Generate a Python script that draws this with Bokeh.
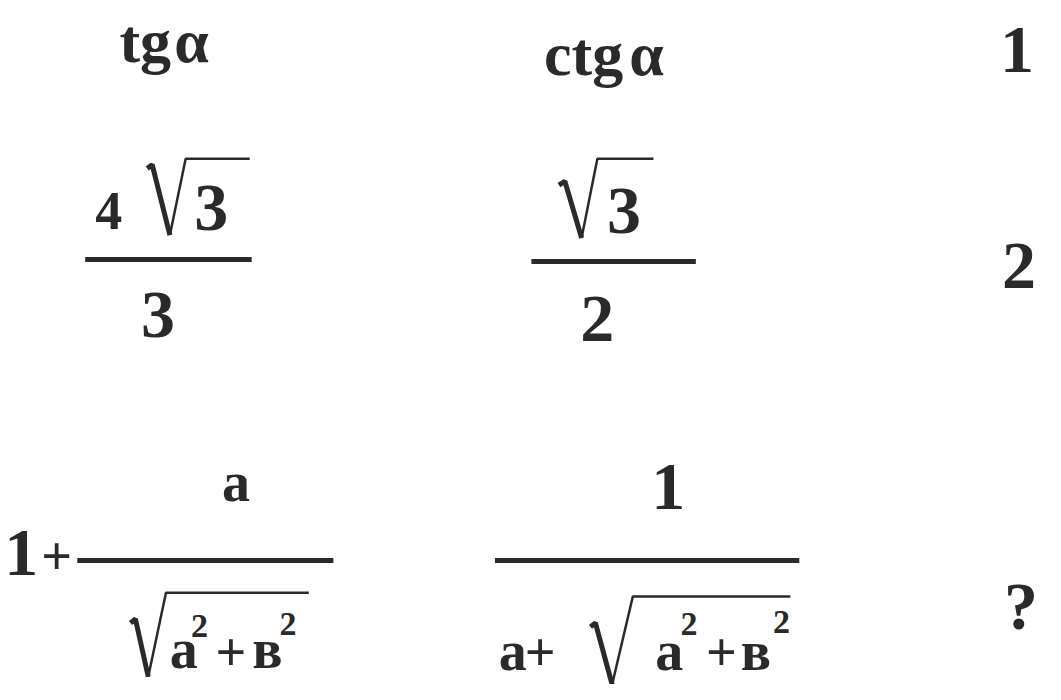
from bokeh.plotting import figure
from bokeh.models import Range1d, ColumnDataSource
from bokeh.core.properties import value
from bokeh.embed import file_html
from bokeh.resources import INLINE

# ---------------- content (text tokens of the table) ----------------
header_tokens = ["tg", "α", "ctg", "α"]                 # column headers
coef_tokens = ["4"]                                       # coefficient before the root
big_tokens = ["1", "3", "3", "3", "2", "2", "1", "1", "?"]   # large numerals
letter_tokens = ["a", "a", "в", "a", "a", "в"]           # letters in row 3
plus_tokens = ["+", "+", "+", "+"]                       # plus signs in row 3
sup_tokens = ["2", "2", "2", "2"]                         # exponents

# ---------------- layout (reference pixel coordinates, y = baseline) ----------------
header_x = [147, 194, 592, 656]
header_y = [64, 64, 77, 77]
coef_x = [110]
coef_y = [235]
big_x = [1032, 214, 160, 633, 606, 1034, 21, 678, 1036]
big_y = [75, 237, 346, 240, 350, 296, 590, 522, 644]
letter_x = [239, 186, 271, 520, 679, 767]
letter_y = [513, 684, 684, 686, 686, 686]
plus_x = [57, 234, 548, 732]
plus_y = [588, 686, 686, 686]
sup_x = [202, 292, 699, 793]
sup_y = [652, 650, 650, 648]

bar_x0 = [86, 539, 78, 502]
bar_x1 = [255, 706, 338, 811]
bar_y = [265, 267, 573, 573]

rad_thick_xs = [[149, 154, 172], [567, 573, 590], [132, 137, 150], [599, 604, 621]]
rad_thick_ys = [[172, 168, 240], [189, 185, 243], [637, 633, 692], [641, 637, 700]]
rad_thin_xs = [[172, 188, 253], [590, 606, 663], [150, 168, 313], [621, 642, 802]]
rad_thin_ys = [[240, 162, 162], [243, 162, 162], [692, 606, 606], [700, 610, 610]]

INK = "#2a2a2a"
FONT = value("Liberation Serif")
BASE_SHIFT = 0.36   # the text anchor sits this fraction of the font size below the drawn baseline

p = figure(width=1045, height=684,
           x_range=Range1d(0, 1061), y_range=Range1d(700, 0),
           output_backend="svg", toolbar_location=None, min_border=0)
p.axis.visible = False
p.grid.visible = False
p.outline_line_color = None
p.background_fill_color = "white"
p.border_fill_color = "white"


def add_text(xs, ys, toks, size):
    ya = [y - BASE_SHIFT * size for y in ys]
    src = ColumnDataSource(dict(x=xs, y=ya, t=toks))
    p.text(x="x", y="y", text="t", source=src, text_font=FONT,
           text_font_style="bold", text_font_size=value(f"{size}px"),
           text_color=INK, text_align="center", text_baseline="alphabetic")


add_text(header_x, header_y, header_tokens, 62)
add_text(coef_x, coef_y, coef_tokens, 54)
add_text(big_x, big_y, big_tokens, 68)
add_text(letter_x, letter_y, letter_tokens, 56)
add_text(plus_x, plus_y, plus_tokens, 54)
add_text(sup_x, sup_y, sup_tokens, 34)

p.segment(x0=bar_x0, y0=bar_y, x1=bar_x1, y1=bar_y, line_color=INK, line_width=5)
p.multi_line(xs=rad_thick_xs, ys=rad_thick_ys, line_color=INK, line_width=5)
p.multi_line(xs=rad_thin_xs, ys=rad_thin_ys, line_color=INK, line_width=2.5)

open("out.html", "w").write(file_html(p, INLINE))
